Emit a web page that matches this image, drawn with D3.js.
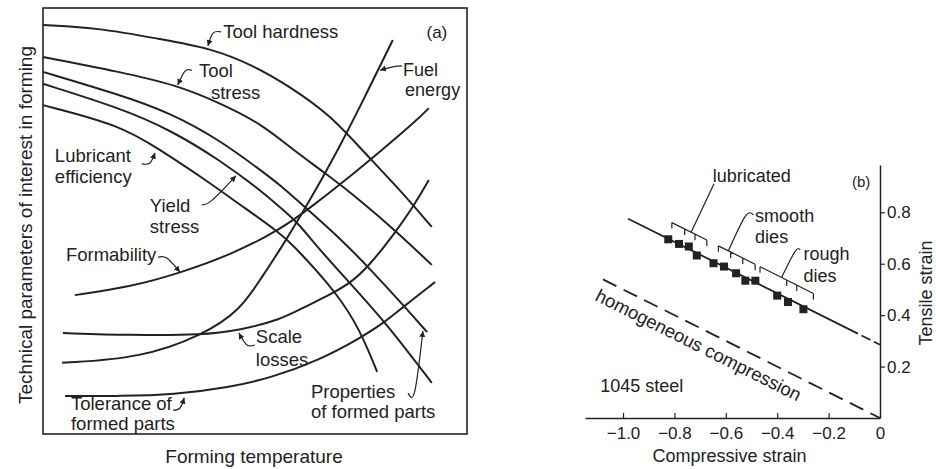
<!DOCTYPE html>
<html>
<head>
<meta charset="utf-8">
<script src="https://cdn.jsdelivr.net/npm/d3@7"></script>
<style>
body{margin:0;background:#fff;}
text{font-family:"Liberation Sans",Arial,sans-serif;fill:#222;}
</style>
</head>
<body>
<div class="canvas"></div>
<script>
// ---- panel (a): curves as [forming temperature, parameter level], 0-100 units
const toolHardness = [[0,96.0],[13.4,95.3],[27.6,92.7],[39.4,90.6],[49.5,86.6],[58.3,81.5],[67.7,74.9],[75.2,66.7],[84.2,57.3],[91.7,48.6]];
const toolStress = [[0,88.5],[18.2,85.0],[31.6,81.9],[41.7,77.7],[51.2,73.0],[59.0,66.7],[66.5,61.3],[74.8,54.9],[83.5,47.4],[91.7,39.7]];
const formedProps = [[0,85.0],[18.2,79.6],[30.0,75.4],[41.7,69.0],[51.2,62.0],[55.9,58.5],[62.5,52.6],[70.0,46.0],[76.7,39.2],[85.4,29.8],[90.6,23.9]];
const yieldStress = [[0,82.2],[18.2,76.5],[30.0,71.4],[41.7,64.3],[51.2,57.3],[56.6,52.6],[59.9,49.8],[65.3,43.2],[72.4,35.4],[80.7,26.3],[91.7,12.0]];
const lubricant = [[0,77.2],[18.2,72.5],[27.6,66.7],[37.7,60.1],[46.5,53.8],[55.9,47.2],[60.1,43.2],[69.3,33.1],[74.8,24.4],[78.8,14.6]];
const fuelEnergy = [[4.5,16.7],[22.9,17.8],[37.7,23.2],[46.5,29.1],[51.2,36.2],[55.9,43.2],[63.0,54.9],[69.6,66.7],[75.9,79.1],[82.5,92.5]];
const formability = [[7.5,32.6],[20.5,34.5],[32.3,37.8],[44.1,42.0],[55.9,47.9],[63.0,53.1],[70.0,58.5],[80.0,66.7],[88.2,73.7],[91.0,76.5]];
const scaleLosses = [[4.7,23.7],[20.5,23.2],[37.7,23.2],[46.5,24.4],[55.9,26.8],[61.3,29.6],[68.4,33.1],[72.4,35.4],[76.7,39.2],[83.0,47.2],[87.3,53.3],[91.0,59.6]];
const tolerance = [[5.2,8.9],[18.2,8.9],[30.7,9.2],[44.1,11.0],[53.5,13.1],[65.3,17.4],[74.8,22.5],[80.7,26.3],[84.9,29.8],[92.5,35.7]];

// ---- panel (b): 1045 steel strains
const compressive = [-0.824,-0.782,-0.744,-0.713,-0.648,-0.607,-0.560,-0.524,-0.485,-0.400,-0.358,-0.298];
const tensile = [0.695,0.677,0.667,0.632,0.602,0.589,0.563,0.534,0.534,0.476,0.451,0.423];
const xTicks = [-1.0,-0.8,-0.6,-0.4,-0.2,0];
const yTicks = [0.2,0.4,0.6,0.8];
const fitLine = [[-0.98,0.775],[-0.086,0.328],[0,0.285]];
const homogeneous = [[-1.078,0.539],[0,0]];
const lubricatedTicks = [-0.81,-0.76,-0.72,-0.674];
const smoothTicks = [-0.629,-0.581,-0.534,-0.486];
const roughTicks = [-0.467,-0.363,-0.324,-0.259];

const ink = '#222';
const svg = d3.select('.canvas')
  .append('svg')
    .attr('width', 936)
    .attr('height', 469);

svg.append('defs').append('marker')
  .attr('id', 'arr')
  .attr('markerUnits', 'userSpaceOnUse')
  .attr('markerWidth', 7).attr('markerHeight', 7)
  .attr('refX', 6).attr('refY', 3)
  .attr('orient', 'auto')
  .append('path').attr('d', 'M0,0L6,3L0,6z').attr('fill', ink);

//==================== panel (a)
const ax = d3.scaleLinear().domain([0,100]).range([43,467]);
const ay = d3.scaleLinear().domain([0,100]).range([434,8]);
const ga = svg.append('g');

ga.append('rect')
  .attr('x', ax(0)).attr('y', ay(100))
  .attr('width', ax(100)-ax(0)).attr('height', ay(0)-ay(100))
  .attr('fill', 'none').attr('stroke', ink).attr('stroke-width', 1.6);

const curveA = d3.line()
  .x(d => ax(d[0])).y(d => ay(d[1]))
  .curve(d3.curveBasis);

const curvesA = [toolHardness, toolStress, formedProps, yieldStress, lubricant,
  fuelEnergy, formability, scaleLosses, tolerance];
ga.selectAll('path.curve')
  .data(curvesA)
  .enter().append('path')
    .attr('class', 'curve')
    .attr('d', curveA)
    .attr('fill', 'none')
    .attr('stroke', ink)
    .attr('stroke-width', 2);

// labels [text, x, y]
const labelsA = [
  ['Tool hardness',42.5,93.0],['Fuel',84.9,84.0],['energy',85.4,79.4],
  ['Tool',36.8,83.8],['stress',39.6,78.6],['Lubricant',2.8,63.8],['efficiency',2.8,58.9],
  ['Yield',25.2,52.1],['stress',25.2,47.2],['Formability',5.4,40.6],
  ['Scale',50.2,21.4],['losses',50.2,16.0],['Tolerance of',6.6,5.6],['formed parts',6.6,0.9],
  ['Properties',63.2,8.5],['of formed parts',63.2,3.8]
];
ga.selectAll('text.lab')
  .data(labelsA)
  .enter().append('text')
    .attr('class', 'lab')
    .attr('x', d => ax(d[1])).attr('y', d => ay(d[2]))
    .attr('font-size', d => (d[0] === 'Fuel' || d[0] === 'energy') ? 18 : 18.5)
    .text(d => d[0]);

ga.append('text')
  .attr('x', ax(92.9)).attr('y', ay(93.0))
  .attr('text-anchor', 'middle').attr('font-size', 17)
  .text('(a)');

// leader hooks pointing to the curves
const leadersA = [
  [[42.0,94.4],[40.1,94.1],[38.9,91.1]],
  [[35.1,85.4],[33.5,85.2],[31.8,81.9]],
  [[84.7,86.4],[82.5,86.2],[79.5,85.4]],
  [[23.3,63.4],[25.2,63.6],[26.4,66.0]],
  [[37.5,53.8],[39.9,54.9],[45.5,60.6]],
  [[27.1,41.5],[29.2,41.3],[32.3,38.0]],
  [[50.0,20.9],[48.1,20.9],[46.2,23.7]],
  [[30.7,5.6],[32.3,6.1],[33.3,8.5]],
  [[86.1,9.6],[87.7,10.1],[89.6,24.2]]
];
const leaderLine = d3.line()
  .x(d => ax(d[0])).y(d => ay(d[1]))
  .curve(d3.curveNatural);
ga.selectAll('path.leader')
  .data(leadersA)
  .enter().append('path')
    .attr('class', 'leader')
    .attr('d', leaderLine)
    .attr('fill', 'none')
    .attr('stroke', ink)
    .attr('stroke-width', 1.2)
    .attr('marker-end', 'url(#arr)');

// axis titles
svg.append('text')
  .attr('transform', 'translate(32,225) rotate(-90)')
  .attr('text-anchor', 'middle').attr('font-size', 19)
  .text('Technical parameters of interest in forming');
svg.append('text')
  .attr('x', 254).attr('y', 463)
  .attr('text-anchor', 'middle').attr('font-size', 19)
  .text('Forming temperature');

//==================== panel (b)
const bx = d3.scaleLinear().domain([-1.148,0]).range([585,880]);
const by = d3.scaleLinear().domain([0,0.984]).range([418,165]);
const gb = svg.append('g');

const xAxis = d3.axisBottom(bx)
  .tickValues(xTicks)
  .tickSize(-5).tickSizeOuter(0).tickPadding(9)
  .tickFormat(d => d === 0 ? '0' : d3.format('.1f')(d));
const yAxis = d3.axisRight(by)
  .tickValues(yTicks)
  .tickSize(5).tickSizeOuter(0).tickPadding(2)
  .tickFormat(d3.format('.1f'));

const xAxisGroup = gb.append('g')
  .attr('transform', `translate(0, ${by(0)})`)
  .call(xAxis);
const yAxisGroup = gb.append('g')
  .attr('transform', `translate(${bx(0)}, 0)`)
  .call(yAxis);
[xAxisGroup, yAxisGroup].forEach(g => {
  g.attr('font-size', 17).attr('font-family', '"Liberation Sans",Arial,sans-serif');
  g.select('.domain').attr('stroke', ink).attr('stroke-width', 1.5);
  g.selectAll('.tick line').attr('stroke', ink).attr('stroke-width', 1.2);
  g.selectAll('.tick text').attr('fill', ink);
});
xAxisGroup.selectAll('.tick').filter(d => d === 0).select('line').remove();

const lineB = d3.line().x(d => bx(d[0])).y(d => by(d[1]));

gb.append('path')
  .attr('d', lineB(homogeneous))
  .attr('fill', 'none').attr('stroke', ink)
  .attr('stroke-width', 1.8).attr('stroke-dasharray', '15,8');

gb.append('path')
  .attr('d', lineB(fitLine.slice(0,2)))
  .attr('fill', 'none').attr('stroke', ink).attr('stroke-width', 1.8);
gb.append('path')
  .attr('d', lineB(fitLine.slice(1)))
  .attr('fill', 'none').attr('stroke', ink).attr('stroke-width', 1.8)
  .attr('stroke-dasharray', '0,4,10,4,10');

const pts = compressive.map((c, i) => [c, tensile[i]]);
gb.selectAll('rect.pt')
  .data(pts)
  .enter().append('rect')
    .attr('class', 'pt')
    .attr('x', d => bx(d[0]) - 4).attr('y', d => by(d[1]) - 4)
    .attr('width', 8).attr('height', 8)
    .attr('fill', ink);

// brackets above the fit line
const fitY = x => 0.285 - 0.5 * x;
const brackets = [lubricatedTicks, smoothTicks, roughTicks];
brackets.forEach(ticks => {
  const up = x => by(fitY(x) + 0.07);
  let d = `M${bx(ticks[0])},${up(ticks[0])}L${bx(ticks[ticks.length-1])},${up(ticks[ticks.length-1])}`;
  ticks.forEach(t => { d += `M${bx(t)},${up(t)}v6`; });
  gb.append('path').attr('d', d)
    .attr('fill', 'none').attr('stroke', ink).attr('stroke-width', 1.2);
});

const leadersB = [
  [[-0.735, fitY(-0.735)+0.07],[-0.646,0.911]],
  [[-0.59, fitY(-0.59)+0.07],[-0.525,0.783],[-0.493,0.79]],
  [[-0.383, fitY(-0.383)+0.07],[-0.331,0.647],[-0.311,0.654]]
];
gb.selectAll('path.leadB')
  .data(leadersB)
  .enter().append('path')
    .attr('class', 'leadB')
    .attr('d', d3.line().x(d => bx(d[0])).y(d => by(d[1])).curve(d3.curveNatural))
    .attr('fill', 'none').attr('stroke', ink).attr('stroke-width', 1.2);

const labelsB = [
  ['lubricated',-0.651,0.916],['smooth',-0.486,0.764],['dies',-0.486,0.680],
  ['rough',-0.298,0.615],['dies',-0.298,0.530],['1045 steel',-1.089,0.101]
];
gb.selectAll('text.labB')
  .data(labelsB)
  .enter().append('text')
    .attr('class', 'labB')
    .attr('x', d => bx(d[1])).attr('y', d => by(d[2]))
    .attr('font-size', 18)
    .text(d => d[0]);

gb.append('text')
  .attr('x', bx(-0.109)).attr('y', by(0.898))
  .attr('font-size', 15)
  .text('(b)');

const ang = Math.atan2(by(homogeneous[1][1]) - by(homogeneous[0][1]),
  bx(homogeneous[1][0]) - bx(homogeneous[0][0])) * 180 / Math.PI;
gb.append('text')
  .attr('transform', `translate(${bx(-1.113)},${by(0.459)}) rotate(${ang})`)
  .attr('font-size', 18.5)
  .text('homogeneous compression');

svg.append('text')
  .attr('x', 729.5).attr('y', 462)
  .attr('text-anchor', 'middle').attr('font-size', 18)
  .text('Compressive strain');
svg.append('text')
  .attr('transform', 'translate(932,293) rotate(-90)')
  .attr('text-anchor', 'middle').attr('font-size', 18)
  .text('Tensile strain');
</script>
</body>
</html>
